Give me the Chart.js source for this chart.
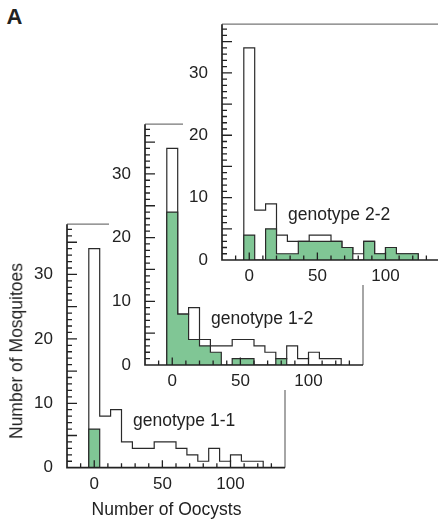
<!DOCTYPE html>
<html>
<head>
<meta charset="utf-8">
<script src="https://cdn.jsdelivr.net/npm/chart.js@4/dist/chart.umd.min.js"></script>
<style>
  html, body { margin:0; padding:0; background:#fff; width:438px; height:521px; overflow:hidden; }
  body { position:relative; font-family:"Liberation Sans", Arial, sans-serif; color:#222; }
  .panel { position:absolute; background:#fff; }
  .panel canvas { display:block; }
  .txt { position:absolute; white-space:nowrap; line-height:1; }
</style>
</head>
<body>
<div class="panel" id="p1" style="left:0px;top:200px;z-index:1"><canvas id="c1" width="300" height="300"></canvas></div>
<div class="panel" id="p2" style="left:109px;top:100px;z-index:2"><canvas id="c2" width="261" height="290"></canvas></div>
<div class="panel" id="p3" style="left:183px;top:0px;z-index:3"><canvas id="c3" width="260" height="285"></canvas></div>
<div class="txt" style="left:6.5px;top:6.4px;font-size:22px;font-weight:bold;z-index:5">A</div>
<div class="txt" style="left:166.5px;top:500.7px;font-size:17.5px;transform:translateX(-50%);z-index:5">Number of Oocysts</div>
<div class="txt" style="left:17px;top:351px;font-size:17.5px;transform:translate(-50%,-50%) rotate(-90deg);z-index:5">Number of Mosquitoes</div>
<script>
// ---- data ----
const binCenters = [0, 8, 16, 24, 32, 40, 48, 56, 64, 72, 80, 88, 96, 104, 112, 120];
const binWidth = 8;
const allCounts = [34, 8, 9, 4, 3, 3, 4, 4, 3, 2, 1, 3, 1, 2, 1, 1];
const counts11  = [6, 0, 0, 0, 0, 0, 0, 0, 0, 0, 0, 0, 0, 0, 0, 0];
const counts12  = [24, 8, 4, 3, 2, 0, 1, 1, 0, 0, 1, 0, 0, 0, 0, 0];
const counts22  = [4, 0, 5, 1, 1, 3, 3, 3, 3, 2, 0, 3, 1, 2, 1, 1];
const xTickLabels = [0, 50, 100];
const yTickLabels = [0, 10, 20, 30];
const panelNames = ['genotype 1-1', 'genotype 1-2', 'genotype 2-2'];

const GREEN = '#80c695';
const FONT = '"Liberation Sans", Arial, sans-serif';

function outline(counts) {
  const pts = [{x: binCenters[0] - binWidth / 2, y: 0}];
  counts.forEach((c, i) => {
    pts.push({x: binCenters[i] - binWidth / 2, y: c});
    pts.push({x: binCenters[i] + binWidth / 2, y: c});
  });
  pts.push({x: binCenters[binCenters.length - 1] + binWidth / 2, y: 0});
  return pts;
}

const framePlugin = {
  id: 'frame',
  afterDatasetsDraw(chart, args, opts) {
    const {ctx, chartArea: {left, right, top, bottom}, scales: {x, y}} = chart;
    ctx.save();
    ctx.lineCap = 'butt';
    ctx.strokeStyle = '#777';
    ctx.lineWidth = 1.3;
    ctx.beginPath();
    ctx.moveTo(left, top); ctx.lineTo(right, top); ctx.lineTo(right, bottom);
    ctx.stroke();
    ctx.strokeStyle = '#222';
    ctx.lineWidth = 1.3;
    ctx.beginPath();
    for (let v = 1; v <= 37; v++) {
      const py = y.getPixelForValue(v);
      const len = v % 5 === 0 ? 10 : 5;
      ctx.moveTo(left, py); ctx.lineTo(left + len, py);
    }
    for (let v = -10; v <= 130; v += 10) {
      const px = x.getPixelForValue(v);
      const len = v % 50 === 0 ? 7.5 : 4.5;
      ctx.moveTo(px, bottom); ctx.lineTo(px, bottom - len);
    }
    ctx.stroke();
    ctx.lineWidth = 1.7;
    ctx.beginPath();
    ctx.moveTo(left, top); ctx.lineTo(left, bottom); ctx.lineTo(right, bottom);
    ctx.stroke();
    ctx.fillStyle = '#222';
    ctx.font = '17.5px ' + FONT;
    ctx.textAlign = 'left';
    ctx.textBaseline = 'alphabetic';
    ctx.fillText(opts.text, x.getPixelForValue(opts.at[0]), y.getPixelForValue(opts.at[1]));
    ctx.restore();
  }
};

function makePanel(id, greenCounts, name, geo) {
  new Chart(document.getElementById(id), {
    type: 'line',
    data: {
      datasets: [
        {data: outline(greenCounts), borderColor: '#2a2a2a', borderWidth: 1.2, backgroundColor: GREEN, fill: 'origin', pointRadius: 0, tension: 0},
        {data: outline(allCounts), borderColor: '#2a2a2a', borderWidth: 1.2, backgroundColor: '#ffffff', fill: 'origin', pointRadius: 0, tension: 0}
      ]
    },
    options: {
      responsive: false,
      animation: false,
      events: [],
      layout: {padding: geo.pad},
      plugins: {
        legend: {display: false},
        tooltip: {enabled: false},
        frame: {text: name, at: [28.5, 6.4]}
      },
      scales: {
        x: {
          type: 'linear', min: -20, max: 140,
          grid: {display: false, drawTicks: false},
          border: {display: false},
          afterBuildTicks: s => { s.ticks = xTickLabels.map(v => ({value: v})); },
          afterFit: s => { s.height = geo.xh; },
          ticks: {padding: 6, color: '#222', font: {family: FONT, size: 17}, maxRotation: 0, autoSkip: false}
        },
        y: {
          type: 'linear', min: 0, max: 37.8,
          grid: {display: false, drawTicks: false},
          border: {display: false},
          afterBuildTicks: s => { s.ticks = yTickLabels.map(v => ({value: v})); },
          afterFit: s => { s.width = geo.yw; },
          ticks: {padding: 14, color: '#222', font: {family: FONT, size: 17}, autoSkip: false}
        }
      }
    },
    plugins: [framePlugin]
  });
}

makePanel('c1', counts11, panelNames[0], {pad: {left: 0, right: 15, top: 14.5, bottom: 2.3}, xh: 30, yw: 67});
makePanel('c2', counts12, panelNames[1], {pad: {left: 0, right: 7, top: 11, bottom: 0}, xh: 25, yw: 36});
makePanel('c3', counts22, panelNames[2], {pad: {left: 0, right: 3, top: 7, bottom: 0}, xh: 25, yw: 39});
</script>
</body>
</html>
